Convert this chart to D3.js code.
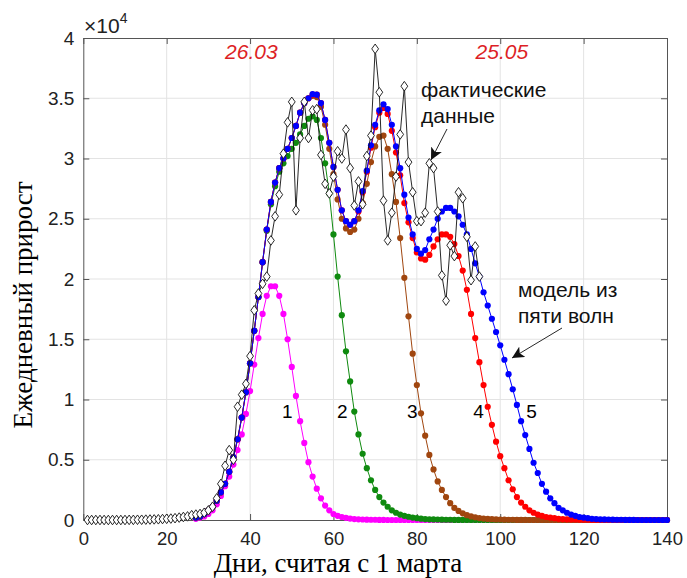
<!DOCTYPE html>
<html>
<head>
<meta charset="utf-8">
<script src="https://cdn.jsdelivr.net/npm/d3@7"></script>
<style>
  body { margin: 0; background: #fff; }
  svg { display: block; }
</style>
</head>
<body>
<div id="chart"></div>
<script>
// first day of the model curves, each curve is one value per day
const modelStart = 27;
// cumulative model waves, units of 10^4 cases per day
const wave1 = [
  0.01, 0.02, 0.03, 0.05, 0.08, 0.13, 0.20, 0.28, 0.36, 0.46,
  0.58, 0.71, 0.88, 1.07, 1.29, 1.51, 1.71, 1.86, 1.94, 1.94,
  1.86, 1.71, 1.50, 1.27, 1.03, 0.82, 0.64, 0.48, 0.36, 0.26,
  0.18, 0.12, 0.08, 0.05, 0.035, 0.025, 0.018, 0.012, 0.008, 0.006,
  0.004, 0.003, 0.002, 0.002, 0.001, 0.001, 0, 0, 0, 0,
  0, 0, 0, 0, 0, 0, 0, 0, 0, 0,
  0, 0, 0, 0, 0, 0, 0, 0, 0, 0,
  0, 0, 0, 0, 0, 0, 0, 0, 0, 0,
  0, 0, 0, 0, 0, 0, 0, 0, 0, 0,
  0, 0, 0, 0, 0, 0, 0, 0, 0, 0,
  0, 0, 0, 0, 0, 0, 0, 0, 0, 0,
  0, 0, 0, 0
];
const wave2 = [
  0.02, 0.03, 0.05, 0.08, 0.11, 0.16, 0.23, 0.30, 0.40, 0.52,
  0.67, 0.85, 1.06, 1.30, 1.57, 1.85, 2.14, 2.40, 2.62, 2.77,
  2.89, 2.96, 3.02, 3.08, 3.13, 3.20, 3.27, 3.33, 3.35, 3.32,
  3.17, 2.96, 2.71, 2.37, 2.02, 1.70, 1.40, 1.15, 0.90, 0.71,
  0.55, 0.43, 0.33, 0.25, 0.19, 0.145, 0.11, 0.08, 0.06, 0.045,
  0.035, 0.027, 0.02, 0.015, 0.011, 0.008, 0.006, 0.005, 0.004, 0.003,
  0.002, 0.002, 0.001, 0.001, 0.001, 0, 0, 0, 0, 0,
  0, 0, 0, 0, 0, 0, 0, 0, 0, 0,
  0, 0, 0, 0, 0, 0, 0, 0, 0, 0,
  0, 0, 0, 0, 0, 0, 0, 0, 0, 0,
  0, 0, 0, 0, 0, 0, 0, 0, 0, 0,
  0, 0, 0, 0
];
const wave3 = [
  0.02, 0.03, 0.05, 0.08, 0.11, 0.16, 0.23, 0.30, 0.40, 0.52,
  0.67, 0.85, 1.06, 1.30, 1.57, 1.85, 2.14, 2.41, 2.64, 2.80,
  2.92, 3.00, 3.08, 3.17, 3.27, 3.38, 3.46, 3.50, 3.52, 3.51,
  3.43, 3.28, 3.08, 2.87, 2.66, 2.50, 2.42, 2.39, 2.41, 2.50,
  2.63, 2.79, 2.97, 3.10, 3.18, 3.19, 3.08, 2.87, 2.64, 2.34,
  2.01, 1.69, 1.38, 1.12, 0.885, 0.70, 0.54, 0.42, 0.32, 0.25,
  0.19, 0.14, 0.10, 0.075, 0.055, 0.04, 0.03, 0.022, 0.016, 0.012,
  0.009, 0.007, 0.005, 0.004, 0.003, 0.002, 0.002, 0.001, 0.001, 0.001,
  0, 0, 0, 0, 0, 0, 0, 0, 0, 0,
  0, 0, 0, 0, 0, 0, 0, 0, 0, 0,
  0, 0, 0, 0, 0, 0, 0, 0, 0, 0,
  0, 0, 0, 0
];
const wave4 = [
  0.02, 0.03, 0.05, 0.08, 0.11, 0.16, 0.23, 0.30, 0.40, 0.52,
  0.67, 0.85, 1.06, 1.30, 1.57, 1.85, 2.14, 2.41, 2.64, 2.80,
  2.92, 3.00, 3.08, 3.17, 3.27, 3.38, 3.46, 3.50, 3.53, 3.53,
  3.46, 3.32, 3.13, 2.93, 2.74, 2.57, 2.48, 2.45, 2.48, 2.56,
  2.72, 2.89, 3.09, 3.26, 3.38, 3.42, 3.37, 3.23, 3.05, 2.86,
  2.63, 2.47, 2.34, 2.22, 2.17, 2.16, 2.20, 2.27, 2.33, 2.37,
  2.37, 2.35, 2.29, 2.19, 2.07, 1.91, 1.71, 1.51, 1.31, 1.12,
  0.94, 0.79, 0.65, 0.53, 0.43, 0.33, 0.255, 0.19, 0.145, 0.11,
  0.08, 0.06, 0.045, 0.035, 0.025, 0.02, 0.015, 0.01, 0.008, 0.006,
  0.005, 0.004, 0.003, 0.002, 0.002, 0.001, 0.001, 0, 0, 0,
  0, 0, 0, 0, 0, 0, 0, 0, 0, 0,
  0, 0, 0, 0
];
const wave5 = [
  0.02, 0.03, 0.05, 0.08, 0.11, 0.16, 0.23, 0.30, 0.40, 0.52,
  0.67, 0.85, 1.06, 1.30, 1.57, 1.85, 2.14, 2.41, 2.64, 2.80,
  2.92, 3.00, 3.08, 3.17, 3.27, 3.38, 3.46, 3.50, 3.535, 3.53,
  3.46, 3.32, 3.13, 2.93, 2.74, 2.57, 2.48, 2.45, 2.48, 2.57,
  2.73, 2.90, 3.11, 3.28, 3.40, 3.45, 3.41, 3.28, 3.10, 2.92,
  2.70, 2.51, 2.37, 2.25, 2.21, 2.24, 2.33, 2.41, 2.50, 2.56,
  2.59, 2.59, 2.56, 2.52, 2.45, 2.37, 2.25, 2.13, 2.02, 1.89,
  1.78, 1.67, 1.56, 1.45, 1.33, 1.21, 1.085, 0.955, 0.82, 0.705,
  0.59, 0.475, 0.39, 0.30, 0.235, 0.18, 0.14, 0.10, 0.08, 0.06,
  0.045, 0.035, 0.025, 0.02, 0.015, 0.01, 0.008, 0.006, 0.005, 0.004,
  0.003, 0.002, 0.002, 0.001, 0.001, 0.001, 0, 0, 0, 0,
  0, 0, 0, 0
];
// reported daily cases from day 1
const factStart = 1;
const factData = [
  0, 0, 0, 0, 0, 0, 0, 0, 0, 0,
  0.001, 0.001, 0.002, 0.002, 0.003, 0.004, 0.005, 0.006, 0.008, 0.01,
  0.012, 0.015, 0.02, 0.025, 0.03, 0.04, 0.045, 0.05, 0.06, 0.08,
  0.11, 0.18, 0.30, 0.45, 0.58, 0.50, 0.94, 1.04, 1.13, 1.36,
  1.74, 1.88, 1.96, 2.02, 2.32, 2.52, 2.70, 3.04, 3.30, 3.47,
  2.57, 3.17, 3.47, 3.17, 3.40, 3.41, 3.03, 2.79, 2.71, 2.85,
  3.06, 3.00, 3.24, 2.92, 2.61, 2.81, 2.62, 3.02, 3.19, 3.91,
  3.55, 2.65, 2.32, 2.55, 2.85, 3.20, 3.60, 2.97, 2.72, 2.48,
  2.48, 2.55, 2.96, 2.92, 2.56, 2.03, 1.82, 2.28, 2.19, 2.72,
  2.67, 2.35, 1.99, 2.27, 2.02
];
const waveColors = ["#ff00ff", "#0f8a0f", "#a0460f", "#ff0000", "#0000ff"];
const xTicks = [0, 20, 40, 60, 80, 100, 120, 140];
const yTicks = [0, 0.5, 1, 1.5, 2, 2.5, 3, 3.5, 4];
const waveLabels = [
  {text: "1", day: 48.9, val: 0.85},
  {text: "2", day: 62.1, val: 0.85},
  {text: "3", day: 78.9, val: 0.85},
  {text: "4", day: 94.8, val: 0.85},
  {text: "5", day: 107.5, val: 0.85}
];

const width = 687, height = 578;
const margin = {top: 38, right: 20, bottom: 58, left: 83.3};
const plotW = width - margin.left - margin.right,
    plotH = height - margin.top - margin.bottom;

const svg = d3.select("#chart")
  .append("svg")
    .attr("width", width)
    .attr("height", height);

const g = svg.append("g")
    .attr("transform", "translate(" + margin.left + "," + margin.top + ")");

const x = d3.scaleLinear().domain([0, 140]).range([0, plotW]);
const y = d3.scaleLinear().domain([0, 4]).range([plotH, 0]);

// grid
g.append("g").selectAll("line")
  .data(xTicks.slice(1, -1))
  .enter().append("line")
    .attr("x1", d => x(d)).attr("x2", d => x(d))
    .attr("y1", 0).attr("y2", plotH)
    .attr("stroke", "#e3e3e3");
g.append("g").selectAll("line")
  .data(yTicks.slice(1, -1))
  .enter().append("line")
    .attr("y1", d => y(d)).attr("y2", d => y(d))
    .attr("x1", 0).attr("x2", plotW)
    .attr("stroke", "#e3e3e3");

// axes, MATLAB style ticks inside
const fontTick = "'Liberation Sans', Arial, sans-serif";
g.append("g")
  .attr("class", "xax")
  .attr("transform", "translate(0," + plotH + ")")
  .call(d3.axisBottom(x).tickValues(xTicks).tickSize(-6).tickPadding(12).tickSizeOuter(0));
g.append("g")
  .attr("class", "yax")
  .call(d3.axisLeft(y).tickValues(yTicks).tickSize(-6).tickPadding(9).tickSizeOuter(0)
    .tickFormat(d3.format("")));
g.append("g")
  .call(d3.axisTop(x).tickValues(xTicks).tickSize(-6).tickFormat("").tickSizeOuter(0));
g.append("g")
  .attr("transform", "translate(" + plotW + ",0)")
  .call(d3.axisRight(y).tickValues(yTicks).tickSize(-6).tickFormat("").tickSizeOuter(0));
g.selectAll(".domain").attr("stroke", "#555");
g.selectAll(".tick line").attr("stroke", "#555");
g.selectAll(".tick text")
  .style("font-family", fontTick)
  .attr("fill", "#222");
g.selectAll(".xax .tick text").style("font-size", "18.5px");
g.selectAll(".yax .tick text").style("font-size", "19px");

// model curves
const line = d3.line().x(d => x(d.day)).y(d => y(d.val));
[wave1, wave2, wave3, wave4, wave5].forEach(function(arr, i) {
  const pts = arr.map((v, k) => ({day: modelStart + k, val: v}));
  const s = g.append("g");
  s.append("path")
    .datum(pts)
    .attr("d", line)
    .attr("fill", "none")
    .attr("stroke", waveColors[i])
    .attr("stroke-width", 1);
  s.selectAll("circle")
    .data(pts)
    .enter().append("circle")
      .attr("cx", d => x(d.day))
      .attr("cy", d => y(d.val))
      .attr("r", 3.1)
      .attr("fill", waveColors[i]);
});

// actual data
const factPts = factData.map((v, k) => ({day: factStart + k, val: v}));
g.append("path")
  .datum(factPts)
  .attr("d", line)
  .attr("fill", "none")
  .attr("stroke", "#111")
  .attr("stroke-width", 0.9);
g.selectAll(".diam")
  .data(factPts)
  .enter().append("path")
    .attr("class", "diam")
    .attr("transform", d => "translate(" + x(d.day) + "," + y(d.val) + ")")
    .attr("d", "M0,-4.8L3.4,0L0,4.8L-3.4,0Z")
    .attr("fill", "#fff")
    .attr("stroke", "#111")
    .attr("stroke-width", 0.9);

// wave numbers
g.selectAll(".wl")
  .data(waveLabels)
  .enter().append("text")
    .attr("x", d => x(d.day))
    .attr("y", d => y(d.val))
    .attr("text-anchor", "middle")
    .style("font-family", fontTick)
    .style("font-size", "19px")
    .text(d => d.text);

// dates
[["26.03", 40.3], ["25.05", 100.4]].forEach(function(t) {
  g.append("text")
    .attr("x", x(t[1]))
    .attr("y", 21)
    .attr("text-anchor", "middle")
    .attr("fill", "#dd1f26")
    .style("font-family", fontTick)
    .style("font-size", "21px")
    .style("font-style", "italic")
    .text(t[0]);
});

// annotations
const note = svg.append("g")
  .style("font-family", fontTick)
  .style("font-size", "21px")
  .attr("fill", "#111");
note.append("text").attr("x", 421).attr("y", 97).text("фактические");
note.append("text").attr("x", 421).attr("y", 123).text("данные");
note.append("text").attr("x", 518).attr("y", 297).text("модель из");
note.append("text").attr("x", 518).attr("y", 323).text("пяти волн");

svg.append("defs").append("marker")
  .attr("id", "arr")
  .attr("viewBox", "0 0 10 10")
  .attr("refX", 10).attr("refY", 5)
  .attr("markerWidth", 12).attr("markerHeight", 12)
  .attr("markerUnits", "userSpaceOnUse")
  .attr("orient", "auto")
  .append("path")
    .attr("d", "M0,0L10,5L0,10L2.5,5Z")
    .attr("fill", "#111");
[[447, 129, 431, 160], [562, 328, 512, 358]].forEach(function(a) {
  svg.append("line")
    .attr("x1", a[0]).attr("y1", a[1])
    .attr("x2", a[2]).attr("y2", a[3])
    .attr("stroke", "#111")
    .attr("stroke-width", 0.9)
    .attr("marker-end", "url(#arr)");
});

// exponent
const ex = svg.append("text")
  .attr("x", 84).attr("y", 33)
  .style("font-family", fontTick)
  .style("font-size", "21px")
  .attr("fill", "#222");
ex.append("tspan").text("\u00d710");
ex.append("tspan").attr("dy", -10).style("font-size", "14px").text("4");

// axis titles
svg.append("text")
  .attr("x", 338)
  .attr("y", 572)
  .attr("text-anchor", "middle")
  .style("font-family", "'Liberation Serif', 'Times New Roman', serif")
  .style("font-size", "27px")
  .text("Дни, считая с 1 марта");

svg.append("text")
  .attr("transform", "translate(32,305) rotate(-90)")
  .attr("text-anchor", "middle")
  .style("font-family", "'Liberation Serif', 'Times New Roman', serif")
  .style("font-size", "27px")
  .text("Ежедневный прирост");
</script>
</body>
</html>
